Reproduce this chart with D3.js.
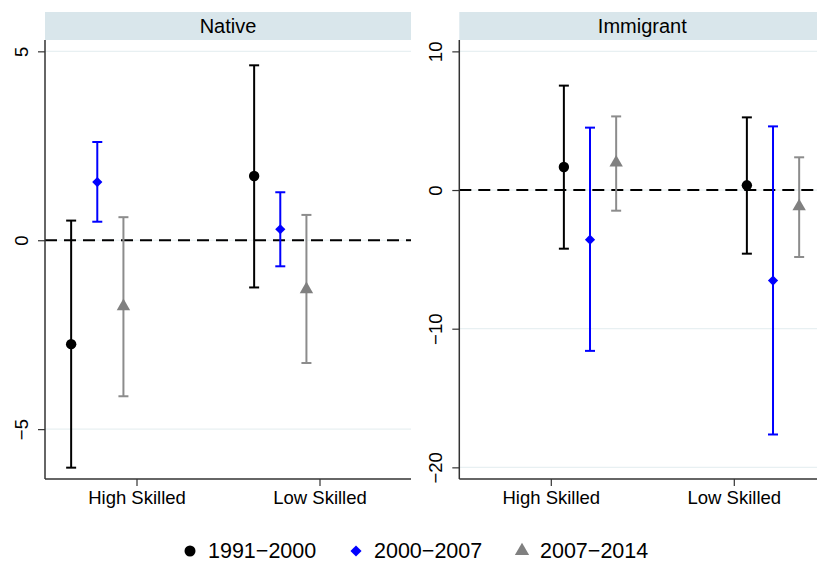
<!DOCTYPE html>
<html><head><meta charset="utf-8">
<script src="https://cdn.jsdelivr.net/npm/d3@7"></script>
<style>body{margin:0;background:#fff}svg{display:block}text{font-family:"Liberation Sans",Arial,sans-serif}</style>
</head><body><svg id="c" width="817" height="563"></svg>
<script>
const panels = ["Native", "Immigrant"];
const seriesNames = ["1991\u22122000", "2000\u22122007", "2007\u22122014"];
const seriesColors = ["#000000", "#0000ff", "#808080"];
const groups = ["High Skilled", "Low Skilled"];
// x positions per panel: [series][group]
const xPosNative = [[1, 8], [2, 9], [3, 10]];
const xPosImmigrant = [[4, 11], [5, 12], [6, 13]];
const groupTickPos = [3.5, 10.5];
// Native estimates: [series][group]
const nativeEst = [[-2.75, 1.70], [1.54, 0.29], [-1.75, -1.30]];
const nativeLo  = [[-6.02, -1.25], [0.49, -0.69], [-4.13, -3.25]];
const nativeHi  = [[0.52, 4.63], [2.60, 1.27], [0.61, 0.67]];
// Immigrant estimates
const immEst = [[1.66, 0.34], [-3.58, -6.53], [1.97, -1.18]];
const immLo  = [[-4.23, -4.59], [-11.6, -17.63], [-1.49, -4.83]];
const immHi  = [[7.53, 5.24], [4.50, 4.59], [5.31, 2.36]];
const nativeTicks = [-5, 0, 5];
const immTicks = [-20, -10, 0, 10];

const svg = d3.select("#c");
const cfg = [
  {name: panels[0], x0: 45, domainY: [-6.32, 5.30], ticks: nativeTicks, est: nativeEst, lo: nativeLo, hi: nativeHi, xpos: xPosNative},
  {name: panels[1], x0: 459.3, domainY: [-20.84, 10.82], ticks: immTicks, est: immEst, lo: immLo, hi: immHi, xpos: xPosImmigrant}
];
const W = 366, plotTop = 40, plotBottom = 479;
const symTypes = [d3.symbolCircle, d3.symbolSquare, d3.symbolTriangle];
const symSizes = [85, 52, 78];

cfg.forEach(p => {
  const g = svg.append("g");
  const x = d3.scaleLinear().domain([0, 14]).range([p.x0, p.x0 + W]);
  const y = d3.scaleLinear().domain(p.domainY).range([plotBottom, plotTop]);
  // strip
  g.append("rect").attr("x", p.x0).attr("y", 12).attr("width", W).attr("height", 28).attr("fill", "#d9e6eb");
  g.append("text").attr("x", p.x0 + W / 2).attr("y", 33).attr("text-anchor", "middle")
    .attr("font-size", 20).attr("fill", "#000").text(p.name);
  // grid
  g.selectAll(".grid").data(p.ticks).enter().append("line")
    .attr("x1", p.x0).attr("x2", p.x0 + W).attr("y1", d => y(d)).attr("y2", d => y(d))
    .attr("stroke", "#e8f0f2").attr("stroke-width", 1.2);
  // zero dashed line
  g.append("line").attr("x1", p.x0).attr("x2", p.x0 + W).attr("y1", y(0)).attr("y2", y(0))
    .attr("stroke", "#000").attr("stroke-width", 2).attr("stroke-dasharray", "12,7");
  // y axis
  const ya = g.append("g").attr("transform", `translate(${p.x0},0)`)
    .call(d3.axisLeft(y).tickValues(p.ticks).tickSize(7).tickFormat(d => d3.format("")(d).replace("-", "\u2212")));
  ya.select(".domain").attr("d", `M0,${plotTop}V${plotBottom}`).attr("stroke", "#333").attr("stroke-width", 1.5);
  ya.selectAll(".tick line").attr("stroke", "#333").attr("stroke-width", 1.2);
  ya.selectAll(".tick text").attr("font-size", 18.5).attr("fill", "#000")
    .attr("transform", "rotate(-90)").attr("x", 0).attr("y", -17).attr("dy", "0").attr("text-anchor", "middle");
  // x axis
  const xa = g.append("g").attr("transform", `translate(0,${plotBottom})`)
    .call(d3.axisBottom(x).tickValues(groupTickPos).tickSize(7).tickFormat((d, i) => groups[i]));
  xa.select(".domain").attr("d", `M${p.x0},0H${p.x0 + W}`).attr("stroke", "#333").attr("stroke-width", 1.5);
  xa.selectAll(".tick line").attr("stroke", "#333").attr("stroke-width", 1.2);
  xa.selectAll(".tick text").attr("font-size", 18.5).attr("fill", "#000").attr("y", 12).attr("dy", "0.71em");
  // series
  seriesNames.forEach((s, si) => {
    groups.forEach((gr, gi) => {
      const cx = x(p.xpos[si][gi]);
      const col = seriesColors[si];
      const lc = si === 2 ? "#8c8c8c" : col;
      g.append("line").attr("x1", cx).attr("x2", cx).attr("y1", y(p.lo[si][gi])).attr("y2", y(p.hi[si][gi]))
        .attr("stroke", lc).attr("stroke-width", 2);
      [p.lo[si][gi], p.hi[si][gi]].forEach(v => {
        g.append("line").attr("x1", cx - 5).attr("x2", cx + 5).attr("y1", y(v)).attr("y2", y(v))
          .attr("stroke", lc).attr("stroke-width", 2);
      });
      const tr = si === 1 ? `translate(${cx},${y(p.est[si][gi])}) rotate(45)` : `translate(${cx},${y(p.est[si][gi])})`;
      g.append("path").attr("d", d3.symbol().type(symTypes[si]).size(symSizes[si])()).attr("transform", tr).attr("fill", col);
    });
  });
});

// legend
const legX = [190, 356, 522];
const leg = svg.append("g");
seriesNames.forEach((s, si) => {
  const tr = si === 1 ? `translate(${legX[si]},551) rotate(45)` : `translate(${legX[si]},551)`;
  leg.append("path").attr("d", d3.symbol().type(symTypes[si]).size(symSizes[si] + 10)()).attr("transform", tr).attr("fill", seriesColors[si]);
  leg.append("text").attr("x", legX[si] + 18).attr("y", 558).attr("font-size", 21.5).attr("fill", "#000").text(s);
});
</script></body></html>
